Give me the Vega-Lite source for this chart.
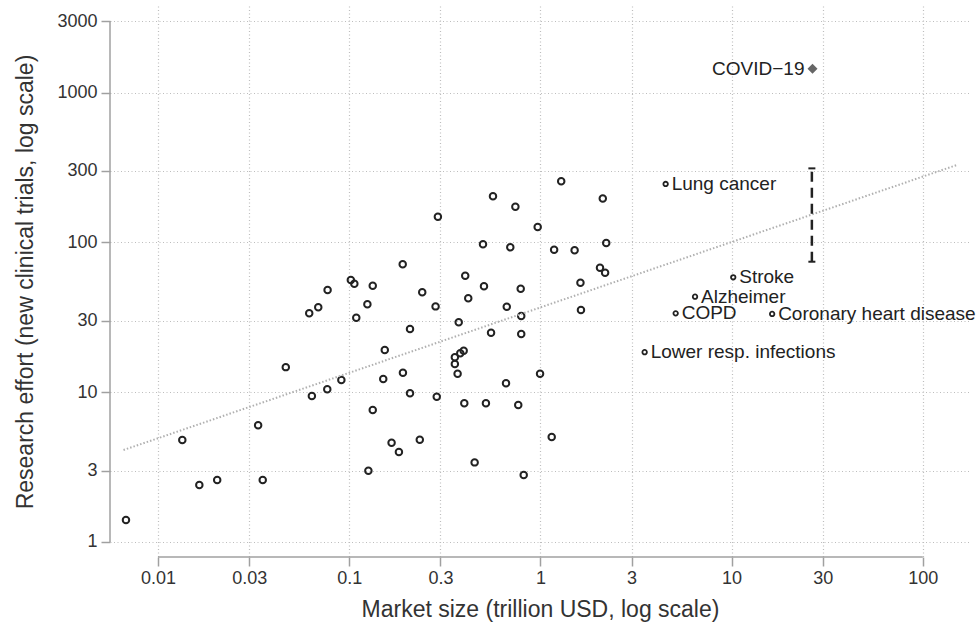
{
  "$schema": "https://vega.github.io/schema/vega-lite/v6.json",
  "width": 860,
  "height": 551,
  "autosize": {"type": "none"},
  "padding": {"left": 110, "top": 6, "right": 7, "bottom": 65},
  "background": "white",
  "config": {
    "view": {"stroke": null},
    "font": "Liberation Sans",
    "axis": {
      "domain": false,
      "grid": true,
      "gridColor": "#bdbdbd",
      "gridDash": [1, 2.5],
      "gridWidth": 1.2,
      "tickColor": "#a0a0a0",
      "tickWidth": 1.5,
      "tickSize": 9,
      "labelFont": "Liberation Sans",
      "labelFontSize": 18,
      "labelColor": "#333333",
      "titleFont": "Liberation Sans",
      "titleFontSize": 23,
      "titleFontWeight": "normal",
      "titleColor": "#333333",
      "labelFlush": false,
      "labelOverlap": false
    }
  },
  "datasets": {
    "points": [
      {"x": 0.0068, "y": 1.40}, {"x": 0.0134, "y": 4.80}, {"x": 0.01645, "y": 2.40}, {"x": 0.0204, "y": 2.59},
      {"x": 0.0334, "y": 6.01}, {"x": 0.0353, "y": 2.59}, {"x": 0.0466, "y": 14.7}, {"x": 0.0638, "y": 9.43},
      {"x": 0.0768, "y": 10.45}, {"x": 0.0618, "y": 33.6}, {"x": 0.0689, "y": 36.9}, {"x": 0.0771, "y": 48.1},
      {"x": 0.102, "y": 56.1}, {"x": 0.1064, "y": 53.0}, {"x": 0.1328, "y": 51.4}, {"x": 0.1245, "y": 38.6},
      {"x": 0.1089, "y": 31.4}, {"x": 0.1905, "y": 71.4}, {"x": 0.241, "y": 46.4}, {"x": 0.283, "y": 37.4},
      {"x": 0.4045, "y": 59.9}, {"x": 0.4195, "y": 42.4}, {"x": 0.374, "y": 29.3}, {"x": 0.208, "y": 26.4},
      {"x": 0.1535, "y": 19.1}, {"x": 0.091, "y": 12.06}, {"x": 0.1507, "y": 12.25}, {"x": 0.191, "y": 13.5},
      {"x": 0.208, "y": 9.83}, {"x": 0.287, "y": 9.33}, {"x": 0.357, "y": 17.1}, {"x": 0.381, "y": 18.2},
      {"x": 0.397, "y": 18.9}, {"x": 0.357, "y": 15.4}, {"x": 0.369, "y": 13.3}, {"x": 0.400, "y": 8.43},
      {"x": 0.519, "y": 8.43}, {"x": 0.766, "y": 8.22}, {"x": 0.661, "y": 11.47}, {"x": 0.996, "y": 13.3},
      {"x": 0.1328, "y": 7.61}, {"x": 0.1666, "y": 4.60}, {"x": 0.182, "y": 3.99}, {"x": 0.234, "y": 4.82},
      {"x": 0.126, "y": 2.99}, {"x": 0.453, "y": 3.40}, {"x": 0.818, "y": 2.80}, {"x": 1.146, "y": 5.02},
      {"x": 0.667, "y": 37.2}, {"x": 0.794, "y": 32.3}, {"x": 1.63, "y": 35.4}, {"x": 0.552, "y": 24.9},
      {"x": 0.794, "y": 24.5}, {"x": 1.285, "y": 256}, {"x": 0.565, "y": 203}, {"x": 0.740, "y": 173},
      {"x": 2.12, "y": 196}, {"x": 0.291, "y": 148.5}, {"x": 0.968, "y": 126.7}, {"x": 0.501, "y": 97.1},
      {"x": 0.696, "y": 92.7}, {"x": 1.18, "y": 89.4}, {"x": 1.51, "y": 88.6}, {"x": 2.21, "y": 99.1},
      {"x": 2.05, "y": 67.8}, {"x": 2.18, "y": 62.8}, {"x": 1.62, "y": 53.8}, {"x": 0.789, "y": 49.1},
      {"x": 0.507, "y": 50.9}
    ],
    "labeled": [
      {"x": 4.52, "y": 245.5, "label": "Lung cancer"},
      {"x": 10.2, "y": 58.5, "label": "Stroke"},
      {"x": 6.44, "y": 43.4, "label": "Alzheimer"},
      {"x": 5.10, "y": 33.6, "label": "COPD"},
      {"x": 16.3, "y": 33.3, "label": "Coronary heart disease"},
      {"x": 3.51, "y": 18.5, "label": "Lower resp. infections"}
    ],
    "covid": [{"x": 26.5, "y": 1440, "label": "COVID−19"}],
    "trend": [{"x": 0.0066, "y": 4.11}, {"x": 151, "y": 329}],
    "range": [{"x": 26.3, "lo": 74.3, "hi": 312}]
  },
  "layer": [
    {
      "data": {"name": "points"},
      "mark": {"type": "point", "shape": "circle", "filled": false, "stroke": "#222222", "strokeWidth": 2, "size": 42, "opacity": 1},
      "encoding": {
        "x": {
          "field": "x", "type": "quantitative",
          "scale": {"type": "log", "domain": [0.00561, 176.6], "nice": false, "zero": false},
          "axis": {
            "values": [0.01, 0.03, 0.1, 0.3, 1, 3, 10, 30, 100],
            "format": "~g",
            "labelPadding": 3,
            "title": "Market size (trillion USD, log scale)",
            "titleX": 430, "titleY": 59, "titleBaseline": "alphabetic"
          }
        },
        "y": {
          "field": "y", "type": "quantitative",
          "scale": {"type": "log", "domain": [0.794, 3785], "nice": false, "zero": false},
          "axis": {
            "values": [1, 3, 10, 30, 100, 300, 1000, 3000],
            "format": "~g",
            "labelPadding": 4,
            "title": "Research effort (new clinical trials, log scale)",
            "titleX": -78, "titleY": 275.5, "titleBaseline": "alphabetic", "titleAngle": -90
          }
        }
      }
    },
    {
      "data": {"values": [{}]},
      "mark": {"type": "rule", "color": "#a0a0a0", "strokeWidth": 1.5},
      "encoding": {
        "x": {"datum": 0.01, "type": "quantitative"},
        "x2": {"datum": 100},
        "y": {"datum": 0.794, "type": "quantitative"}
      }
    },
    {
      "data": {"values": [{}]},
      "mark": {"type": "rule", "color": "#a0a0a0", "strokeWidth": 1.5},
      "encoding": {
        "x": {"datum": 0.00561, "type": "quantitative"},
        "y": {"datum": 1, "type": "quantitative"},
        "y2": {"datum": 3000}
      }
    },
    {
      "data": {"name": "trend"},
      "mark": {"type": "line", "color": "#b0b0b0", "strokeWidth": 2, "strokeDash": [1.5, 2]},
      "encoding": {
        "x": {"field": "x", "type": "quantitative"},
        "y": {"field": "y", "type": "quantitative"}
      }
    },
    {
      "data": {"name": "range"},
      "mark": {"type": "rule", "color": "#222222", "strokeWidth": 2.5, "strokeDash": [10, 6]},
      "encoding": {
        "x": {"field": "x", "type": "quantitative"},
        "y": {"field": "lo", "type": "quantitative"},
        "y2": {"field": "hi"}
      }
    },
    {
      "data": {"name": "range"},
      "mark": {"type": "tick", "orient": "horizontal", "color": "#222222", "size": 7, "thickness": 2, "opacity": 1},
      "encoding": {
        "x": {"field": "x", "type": "quantitative"},
        "y": {"field": "lo", "type": "quantitative"}
      }
    },
    {
      "data": {"name": "range"},
      "mark": {"type": "tick", "orient": "horizontal", "color": "#222222", "size": 7, "thickness": 2, "opacity": 1},
      "encoding": {
        "x": {"field": "x", "type": "quantitative"},
        "y": {"field": "hi", "type": "quantitative"}
      }
    },
    {
      "data": {"name": "labeled"},
      "mark": {"type": "point", "shape": "circle", "filled": false, "stroke": "#222222", "strokeWidth": 1.8, "size": 20, "opacity": 1},
      "encoding": {
        "x": {"field": "x", "type": "quantitative"},
        "y": {"field": "y", "type": "quantitative"}
      }
    },
    {
      "data": {"name": "labeled"},
      "mark": {"type": "text", "align": "left", "baseline": "middle", "dx": 6, "font": "Liberation Sans", "fontSize": 19, "color": "#222222"},
      "encoding": {
        "x": {"field": "x", "type": "quantitative"},
        "y": {"field": "y", "type": "quantitative"},
        "text": {"field": "label"}
      }
    },
    {
      "data": {"name": "covid"},
      "mark": {"type": "point", "shape": "diamond", "filled": true, "color": "#666666", "size": 100, "opacity": 1},
      "encoding": {
        "x": {"field": "x", "type": "quantitative"},
        "y": {"field": "y", "type": "quantitative"}
      }
    },
    {
      "data": {"name": "covid"},
      "mark": {"type": "text", "align": "right", "baseline": "middle", "dx": -8, "font": "Liberation Sans", "fontSize": 19, "color": "#222222"},
      "encoding": {
        "x": {"field": "x", "type": "quantitative"},
        "y": {"field": "y", "type": "quantitative"},
        "text": {"field": "label"}
      }
    }
  ]
}
